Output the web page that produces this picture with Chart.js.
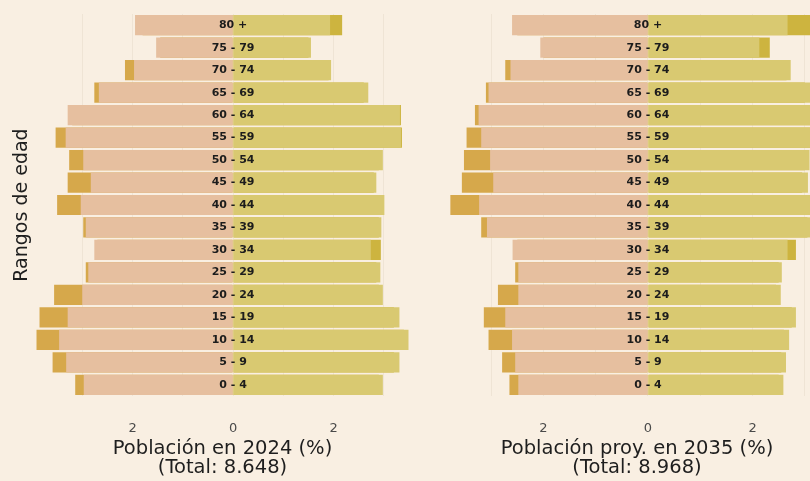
<!DOCTYPE html>
<html>
<head>
<meta charset="utf-8">
<script src="https://cdn.jsdelivr.net/npm/chart.js@4.4.1/dist/chart.umd.min.js"></script>
<style>
  html, body { margin: 0; padding: 0; width: 810px; height: 481px; overflow: hidden; background: #f9efe2; }
  #left { position: absolute; left: 0; top: 0; }
  #right { position: absolute; left: 415px; top: 0; }
</style>
</head>
<body>
<canvas id="left" width="415" height="481"></canvas>
<canvas id="right" width="430" height="481"></canvas>
<script>
// age groups, bottom to top
const ages = ['0 - 4', '5 - 9', '10 - 14', '15 - 19', '20 - 24', '25 - 29', '30 - 34', '35 - 39',
    '40 - 44', '45 - 49', '50 - 54', '55 - 59', '60 - 64', '65 - 69', '70 - 74', '75 - 79', '80 +'];

// 2024 (%)
const men2024 = [2.97, 3.32, 3.46, 3.29, 3.00, 2.88, 2.76, 2.93, 3.03, 2.83, 2.98, 3.33, 3.29, 2.67, 1.97, 1.53, 1.95];
const men2024Ref = [3.14, 3.59, 3.91, 3.85, 3.56, 2.93, 2.70, 2.98, 3.50, 3.29, 3.26, 3.53, 3.20, 2.76, 2.15, 1.45, 1.80];
const women2024 = [2.98, 3.31, 3.49, 3.31, 2.98, 2.93, 2.74, 2.95, 3.01, 2.85, 2.98, 3.34, 3.32, 2.69, 1.95, 1.55, 1.93];
const women2024Ref = [2.90, 3.20, 3.40, 3.20, 2.90, 2.85, 2.94, 2.90, 2.95, 2.80, 2.90, 3.36, 3.34, 2.60, 1.90, 1.50, 2.17];

// 2035 projected (%)
const men2035 = [2.48, 2.54, 2.60, 2.73, 2.48, 2.48, 2.59, 3.08, 3.23, 2.96, 3.02, 3.19, 3.24, 3.05, 2.63, 2.06, 2.60];
const men2035Ref = [2.65, 2.79, 3.05, 3.14, 2.87, 2.54, 2.50, 3.19, 3.78, 3.56, 3.52, 3.47, 3.31, 3.10, 2.73, 2.00, 2.50];
const women2035 = [2.59, 2.64, 2.70, 2.83, 2.54, 2.56, 2.67, 3.15, 3.20, 3.06, 3.09, 3.25, 3.30, 3.12, 2.73, 2.13, 2.67];
const women2035Ref = [2.50, 2.55, 2.60, 2.75, 2.45, 2.50, 2.83, 3.05, 3.10, 2.95, 3.00, 3.15, 3.20, 3.00, 2.65, 2.33, 3.40];

const xTicks = [-3, -2, -1, 0, 1, 2, 3];

const centerLabels = {
    id: 'centerLabels',
    afterDraw(chart) {
        const ctx = chart.ctx;
        const x = chart.scales.x.getPixelForValue(0);
        ctx.save();
        ctx.font = 'bold 11px "DejaVu Sans"';
        ctx.fillStyle = '#1c1c1c';
        ctx.textAlign = 'center';
        ctx.textBaseline = 'middle';
        ages.forEach((a, i) => {
            ctx.fillText(a, x, chart.scales.y.getPixelForValue(i));
        });
        ctx.restore();
    }
};

function pyramid(id, men, menRef, women, womenRef, title, showYTitle, womenColor, womenRefColor) {
    const bar = { grouped: false, barPercentage: 0.9, categoryPercentage: 1, borderWidth: 0 };
    return new Chart(document.getElementById(id), {
        type: 'bar',
        data: {
            labels: ages,
            datasets: [
                { ...bar, label: 'Hombres', data: men.map(v => -v), backgroundColor: '#e6bf9f' },
                { ...bar, label: 'Mujeres', data: women, backgroundColor: womenColor },
                { ...bar, label: 'Hombres ref', data: menRef.map(v => -v), backgroundColor: '#d6a84b' },
                { ...bar, label: 'Mujeres ref', data: womenRef, backgroundColor: womenRefColor }
            ]
        },
        options: {
            indexAxis: 'y',
            responsive: false,
            animation: false,
            devicePixelRatio: 1,
            layout: { padding: { top: 14, left: showYTitle ? 8 : 27, right: showYTitle ? 5 : 13, bottom: 0 } },
            plugins: { legend: { display: false }, tooltip: { enabled: false } },
            scales: {
                x: {
                    min: -3.94,
                    max: 3.52,
                    z: 1,
                    afterBuildTicks: scale => { scale.ticks = xTicks.map(v => ({ value: v })); },
                    grid: { color: 'rgba(110,80,40,0.07)', drawTicks: false },
                    border: { display: false },
                    ticks: {
                        autoSkip: false,
                        padding: 25,
                        color: '#4a4a4a',
                        font: { family: 'DejaVu Sans', size: 13 },
                        callback: v => (v % 2 === 0 ? String(Math.abs(v)) : '')
                    },
                    title: {
                        display: true,
                        text: title,
                        color: '#1e1e1e',
                        font: { family: 'DejaVu Sans', size: 19.5, lineHeight: 1 },
                        padding: { top: -22.6, bottom: 3 }
                    }
                },
                y: {
                    display: showYTitle,
                    reverse: true,
                    grid: { display: false, drawTicks: false },
                    border: { display: false },
                    ticks: { display: false },
                    title: {
                        display: showYTitle,
                        text: 'Rangos de edad',
                        color: '#1e1e1e',
                        font: { family: 'DejaVu Sans', size: 19, lineHeight: 1 },
                        padding: { top: 4.5, bottom: 3.5 }
                    }
                }
            }
        },
        plugins: [centerLabels]
    });
}

pyramid('left', men2024, men2024Ref, women2024, women2024Ref,
    ['Población en 2024 (%)', '(Total: 8.648)'], true, '#d9c971', '#cdb43f');
pyramid('right', men2035, men2035Ref, women2035, women2035Ref,
    ['Población proy. en 2035 (%)', '(Total: 8.968)'], false, '#d9c971', '#cdb43f');
</script>
</body>
</html>
